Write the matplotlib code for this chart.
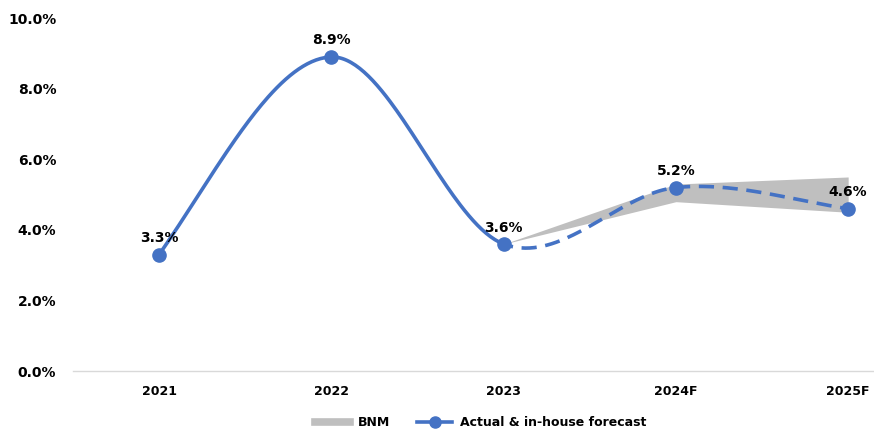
import numpy as np
import matplotlib
matplotlib.use("Agg")
import matplotlib.pyplot as plt
from matplotlib.lines import Line2D

plt.rcParams['font.family'] = ['DejaVu Sans']
plt.rcParams['font.weight'] = 'bold'

# GDP growth, actual and in-house forecast (%)
categories = ["2021", "2022", "2023", "2024F", "2025F"]
growth = [3.3, 8.9, 3.6, 5.2, 4.6]
growth_labels = ["3.3%", "8.9%", "3.6%", "5.2%", "4.6%"]

# BNM forecast range (%), starting from the 2023 actual
bnm_idx = [2, 3, 4]
bnm_low = [3.6, 4.8, 4.5]
bnm_high = [3.6, 5.3, 5.5]

y_ticks = [0, 2, 4, 6, 8, 10]
y_ticklabels = ["0.0%", "2.0%", "4.0%", "6.0%", "8.0%", "10.0%"]

BLUE = "#4472C4"
GREY = "#BFBFBF"


def smooth(xs, ys, n=80, end_gain=1.25):
    """Cardinal (Catmull-Rom) spline through the points, one piece per interval."""
    xs = np.asarray(xs, float)
    ys = np.asarray(ys, float)
    k = len(xs)
    mx = np.zeros(k)
    my = np.zeros(k)
    for i in range(k):
        if i == 0:
            mx[i], my[i] = xs[1] - xs[0], end_gain * (ys[1] - ys[0])
        elif i == k - 1:
            mx[i], my[i] = xs[-1] - xs[-2], end_gain * (ys[-1] - ys[-2])
        else:
            mx[i] = (xs[i + 1] - xs[i - 1]) / 2
            my[i] = (ys[i + 1] - ys[i - 1]) / 2
    segs = []
    t = np.linspace(0, 1, n)
    h00 = 2 * t**3 - 3 * t**2 + 1
    h10 = t**3 - 2 * t**2 + t
    h01 = -2 * t**3 + 3 * t**2
    h11 = t**3 - t**2
    for i in range(k - 1):
        sx = h00 * xs[i] + h10 * mx[i] + h01 * xs[i + 1] + h11 * mx[i + 1]
        sy = h00 * ys[i] + h10 * my[i] + h01 * ys[i + 1] + h11 * my[i + 1]
        segs.append((sx, sy))
    return segs


fig = plt.figure(figsize=(8.74, 4.32), dpi=100)
ax = fig.add_axes([0.0835, 0.141, 0.9165, 0.817])

x = np.arange(len(categories))

# BNM range band
ax.fill_between(bnm_idx, bnm_low, bnm_high, color=GREY, linewidth=0, zorder=1)

# smoothed line: solid for actuals, dashed for forecasts
segs = smooth(x, growth)
solid_x = np.concatenate([segs[0][0], segs[1][0]])
solid_y = np.concatenate([segs[0][1], segs[1][1]])
dash_x = np.concatenate([segs[2][0], segs[3][0]])
dash_y = np.concatenate([segs[2][1], segs[3][1]])
ax.plot(solid_x, solid_y, color=BLUE, lw=2.6, solid_capstyle="round", zorder=2)
ax.plot(dash_x, dash_y, color=BLUE, lw=2.6, linestyle=(1.5, (4.2, 2.4)),
        dash_capstyle="butt", zorder=2)
ax.plot(x, growth, linestyle="none", marker="o", markersize=9.5,
        color=BLUE, zorder=3)

for xi, yi, lab in zip(x, growth, growth_labels):
    ax.annotate(lab, (xi, yi), xytext=(0, 9), textcoords="offset points",
                ha="center", va="baseline", fontsize=10, fontweight="bold",
                color="black", zorder=4)

ax.set_xlim(-0.5, 4.15)
ax.set_ylim(0, 10)
ax.set_xticks(x)
ax.set_xticklabels(categories, fontsize=9, fontweight="bold")
ax.set_yticks(y_ticks)
ax.set_yticklabels(y_ticklabels, fontsize=10, fontweight="bold")
ax.tick_params(axis="y", length=0, pad=12)
ax.tick_params(axis="x", length=0, pad=10)

for side in ["top", "right", "left"]:
    ax.spines[side].set_visible(False)
ax.spines["bottom"].set_color("#D9D9D9")
ax.spines["bottom"].set_linewidth(1.0)

handles = [
    Line2D([0], [0], color=GREY, lw=5.5),
    Line2D([0], [0], color=BLUE, lw=2.6, marker="o", markersize=8),
]
fig.legend(handles, ["BNM", "Actual & in-house forecast"], loc="center",
           bbox_to_anchor=(0.55, 0.022), ncol=2, frameon=False,
           prop={"size": 9, "weight": "bold"}, handlelength=2.8,
           columnspacing=2.2, handletextpad=0.6)

fig.savefig("out.png", dpi=100)
